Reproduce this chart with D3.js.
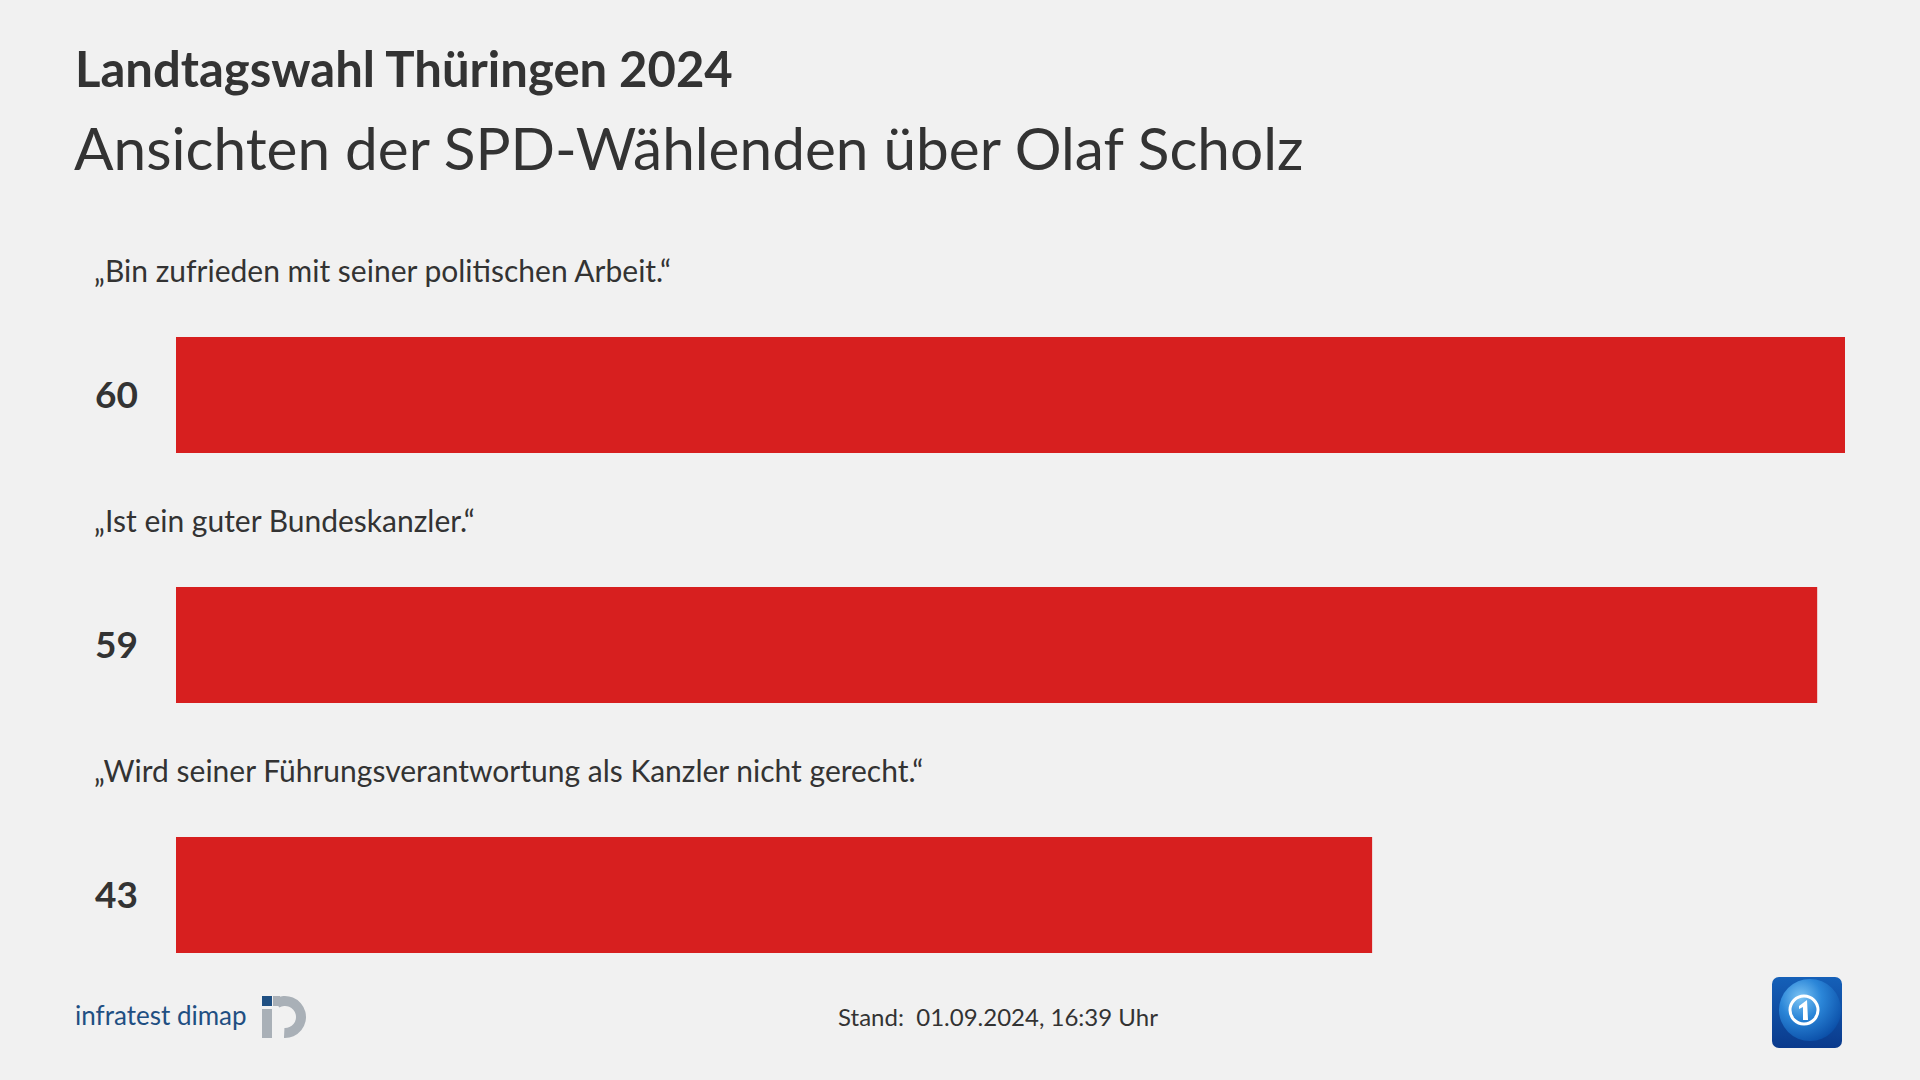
<!DOCTYPE html>
<html>
<head>
<meta charset="utf-8">
<script src="https://cdn.jsdelivr.net/npm/d3@7"></script>
<style>
  html, body { margin: 0; padding: 0; background: #f1f1f1; }
  svg { display: block; }
  text { font-family: Lato, "Noto Sans", sans-serif; fill: #333; }
</style>
</head>
<body>
<svg id="chart" width="1920" height="1080"></svg>
<script>
const title = "Landtagswahl Thüringen 2024";
const subtitle = "Ansichten der SPD-Wählenden über Olaf Scholz";
const categories = [
  "„Bin zufrieden mit seiner politischen Arbeit.“",
  "„Ist ein guter Bundeskanzler.“",
  "„Wird seiner Führungsverantwortung als Kanzler nicht gerecht.“"
];
const values = [60, 59, 43];
const footerText = "Stand:  01.09.2024, 16:39 Uhr";
const sourceText = "infratest dimap";

const W = 1920, H = 1080;
const svg = d3.select("#chart");
svg.append("rect").attr("width", W).attr("height", H).attr("fill", "#f1f1f1");

svg.append("text").attr("x", 75).attr("y", 87)
  .attr("font-size", 49).attr("font-weight", 700).text(title);
svg.append("text").attr("x", 74).attr("y", 170)
  .attr("font-size", 58.5).text(subtitle);

const x = d3.scaleLinear().domain([0, 60]).range([176, 1845]);
const y = d3.scaleBand().domain(categories).range([337, 953]).paddingInner(0.536).paddingOuter(0);

const data = categories.map((c, i) => ({ c, v: values[i] }));
const g = svg.append("g");

g.selectAll("rect.bar").data(data).join("rect")
  .attr("class", "bar")
  .attr("x", x(0))
  .attr("y", d => y(d.c))
  .attr("width", d => x(d.v) - x(0))
  .attr("height", y.bandwidth())
  .attr("fill", "#d71f1f");

g.selectAll("text.cat").data(data).join("text")
  .attr("class", "cat")
  .attr("x", 94)
  .attr("y", d => y(d.c) - 55)
  .attr("font-size", 30)
  .text(d => d.c);

g.selectAll("text.val").data(data).join("text")
  .attr("class", "val")
  .attr("x", 95)
  .attr("y", d => y(d.c) + y.bandwidth() / 2 + 13)
  .attr("font-size", 37)
  .attr("font-weight", 700)
  .text(d => d.v);

// Footer
svg.append("text").attr("x", 998).attr("y", 1026)
  .attr("text-anchor", "middle").attr("font-size", 24)
  .style("white-space", "pre").text(footerText);

// infratest dimap logo
svg.append("text").attr("x", 75).attr("y", 1025)
  .attr("font-size", 26).style("fill", "#1f4f82").text(sourceText);
const logo = svg.append("g").attr("transform", "translate(285,1017)");
logo.append("rect").attr("x", -23).attr("y", -21).attr("width", 10).attr("height", 10).attr("fill", "#1f4f82");
logo.append("rect").attr("x", -23).attr("y", -8).attr("width", 10).attr("height", 29).attr("fill", "#a9b0b7");
logo.append("path")
  .attr("d", d3.arc().innerRadius(11).outerRadius(21).startAngle(-0.55).endAngle(Math.PI + 0.05)())
  .attr("fill", "#a9b0b7");
logo.append("rect").attr("x", -12).attr("y", -21).attr("width", 7).attr("height", 10).attr("fill", "#a9b0b7");

// tagesschau logo
const defs = svg.append("defs");
const lg = defs.append("linearGradient").attr("id", "tsbg").attr("x1", 0).attr("y1", 0).attr("x2", 0).attr("y2", 1);
lg.append("stop").attr("offset", "0%").attr("stop-color", "#1560b8");
lg.append("stop").attr("offset", "100%").attr("stop-color", "#0a3a8c");
const rg = defs.append("radialGradient").attr("id", "globe").attr("cx", "35%").attr("cy", "30%").attr("r", "75%");
rg.append("stop").attr("offset", "0%").attr("stop-color", "#7cc4f4");
rg.append("stop").attr("offset", "45%").attr("stop-color", "#2b86d8");
rg.append("stop").attr("offset", "100%").attr("stop-color", "#0b4fa8");
const ts = svg.append("g");
ts.append("rect").attr("x", 1772).attr("y", 977).attr("width", 70).attr("height", 71).attr("rx", 7).attr("fill", "url(#tsbg)");
ts.append("circle").attr("cx", 1810).attr("cy", 1010).attr("r", 31).attr("fill", "url(#globe)");
ts.append("circle").attr("cx", 1804).attr("cy", 1010).attr("r", 14).attr("fill", "none").attr("stroke", "#fff").attr("stroke-width", 3);
ts.append("path").attr("d", "M1799,1006 L1807,1000 L1808,1020 L1803,1020 L1803,1007 L1799,1009 Z").attr("fill", "#fff");
</script>
</body>
</html>
